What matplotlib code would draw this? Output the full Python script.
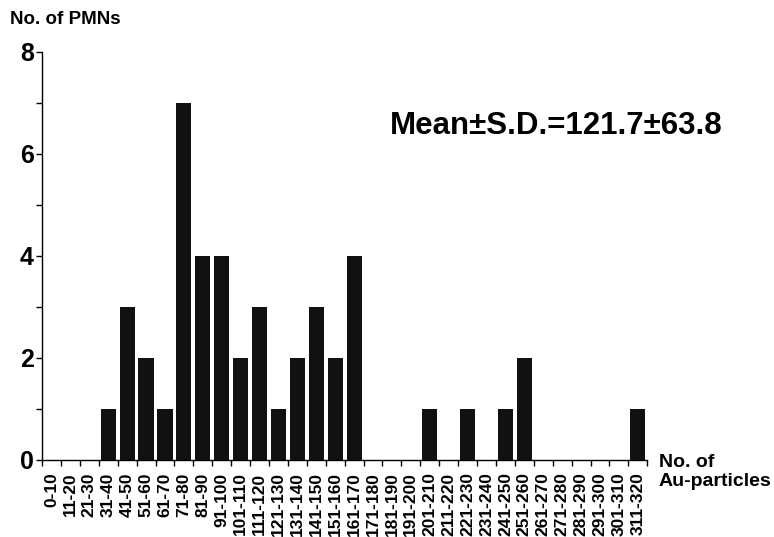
import matplotlib
matplotlib.use("Agg")
import matplotlib.pyplot as plt
import numpy as np
from matplotlib.ticker import MultipleLocator

bins = ["0-10","11-20","21-30","31-40","41-50","51-60","61-70","71-80","81-90","91-100",
        "101-110","111-120","121-130","131-140","141-150","151-160","161-170","171-180",
        "181-190","191-200","201-210","211-220","221-230","231-240","241-250","251-260",
        "261-270","271-280","281-290","291-300","301-310","311-320"]
counts = [0,0,0,1,3,2,1,7,4,4,2,3,1,2,3,2,4,0,0,0,1,0,1,0,1,2,0,0,0,0,0,1]

plt.rcParams['font.family'] = ['Liberation Sans', 'DejaVu Sans']

fig = plt.figure(figsize=(7.74, 5.37), dpi=100)
ax = fig.add_axes([0.0543, 0.1434, 0.782, 0.760])
x = np.arange(len(bins)) + 0.5
ax.bar(x, counts, width=0.8, color='#111111', edgecolor='none')
ax.set_xlim(0, len(bins))
ax.set_ylim(0, 8)
for s in ['top', 'right']:
    ax.spines[s].set_visible(False)
ax.spines['left'].set_linewidth(1.0)
ax.spines['bottom'].set_linewidth(1.0)

ax.set_yticks([0, 2, 4, 6, 8])
ax.yaxis.set_minor_locator(MultipleLocator(1))
ax.tick_params(axis='y', which='both', direction='out', length=4, width=1, labelsize=18, pad=2)
for t in ax.get_yticklabels():
    t.set_fontweight('bold')

ax.set_xticks(x)
ax.set_xticklabels(bins, rotation=90, fontsize=12.5, fontweight='bold')
ax.tick_params(axis='x', which='major', length=0, pad=9)
ax.set_xticks(np.arange(len(bins) + 1), minor=True)
ax.tick_params(axis='x', which='minor', direction='out', length=4, width=1)

fig.text(0.013, 0.963, "No. of PMNs", fontsize=13.5, fontweight='bold', ha='left', va='center')
fig.text(0.851, 0.155, "No. of\nAu-particles", fontsize=14, fontweight='bold', ha='left', va='top',
         linespacing=1.15)
ax.text(0.575, 0.819, "Mean\u00b1S.D.=121.7\u00b163.8", transform=ax.transAxes,
        fontsize=22.5, fontweight='bold', ha='left', va='center')

fig.savefig("out.png", dpi=100)
